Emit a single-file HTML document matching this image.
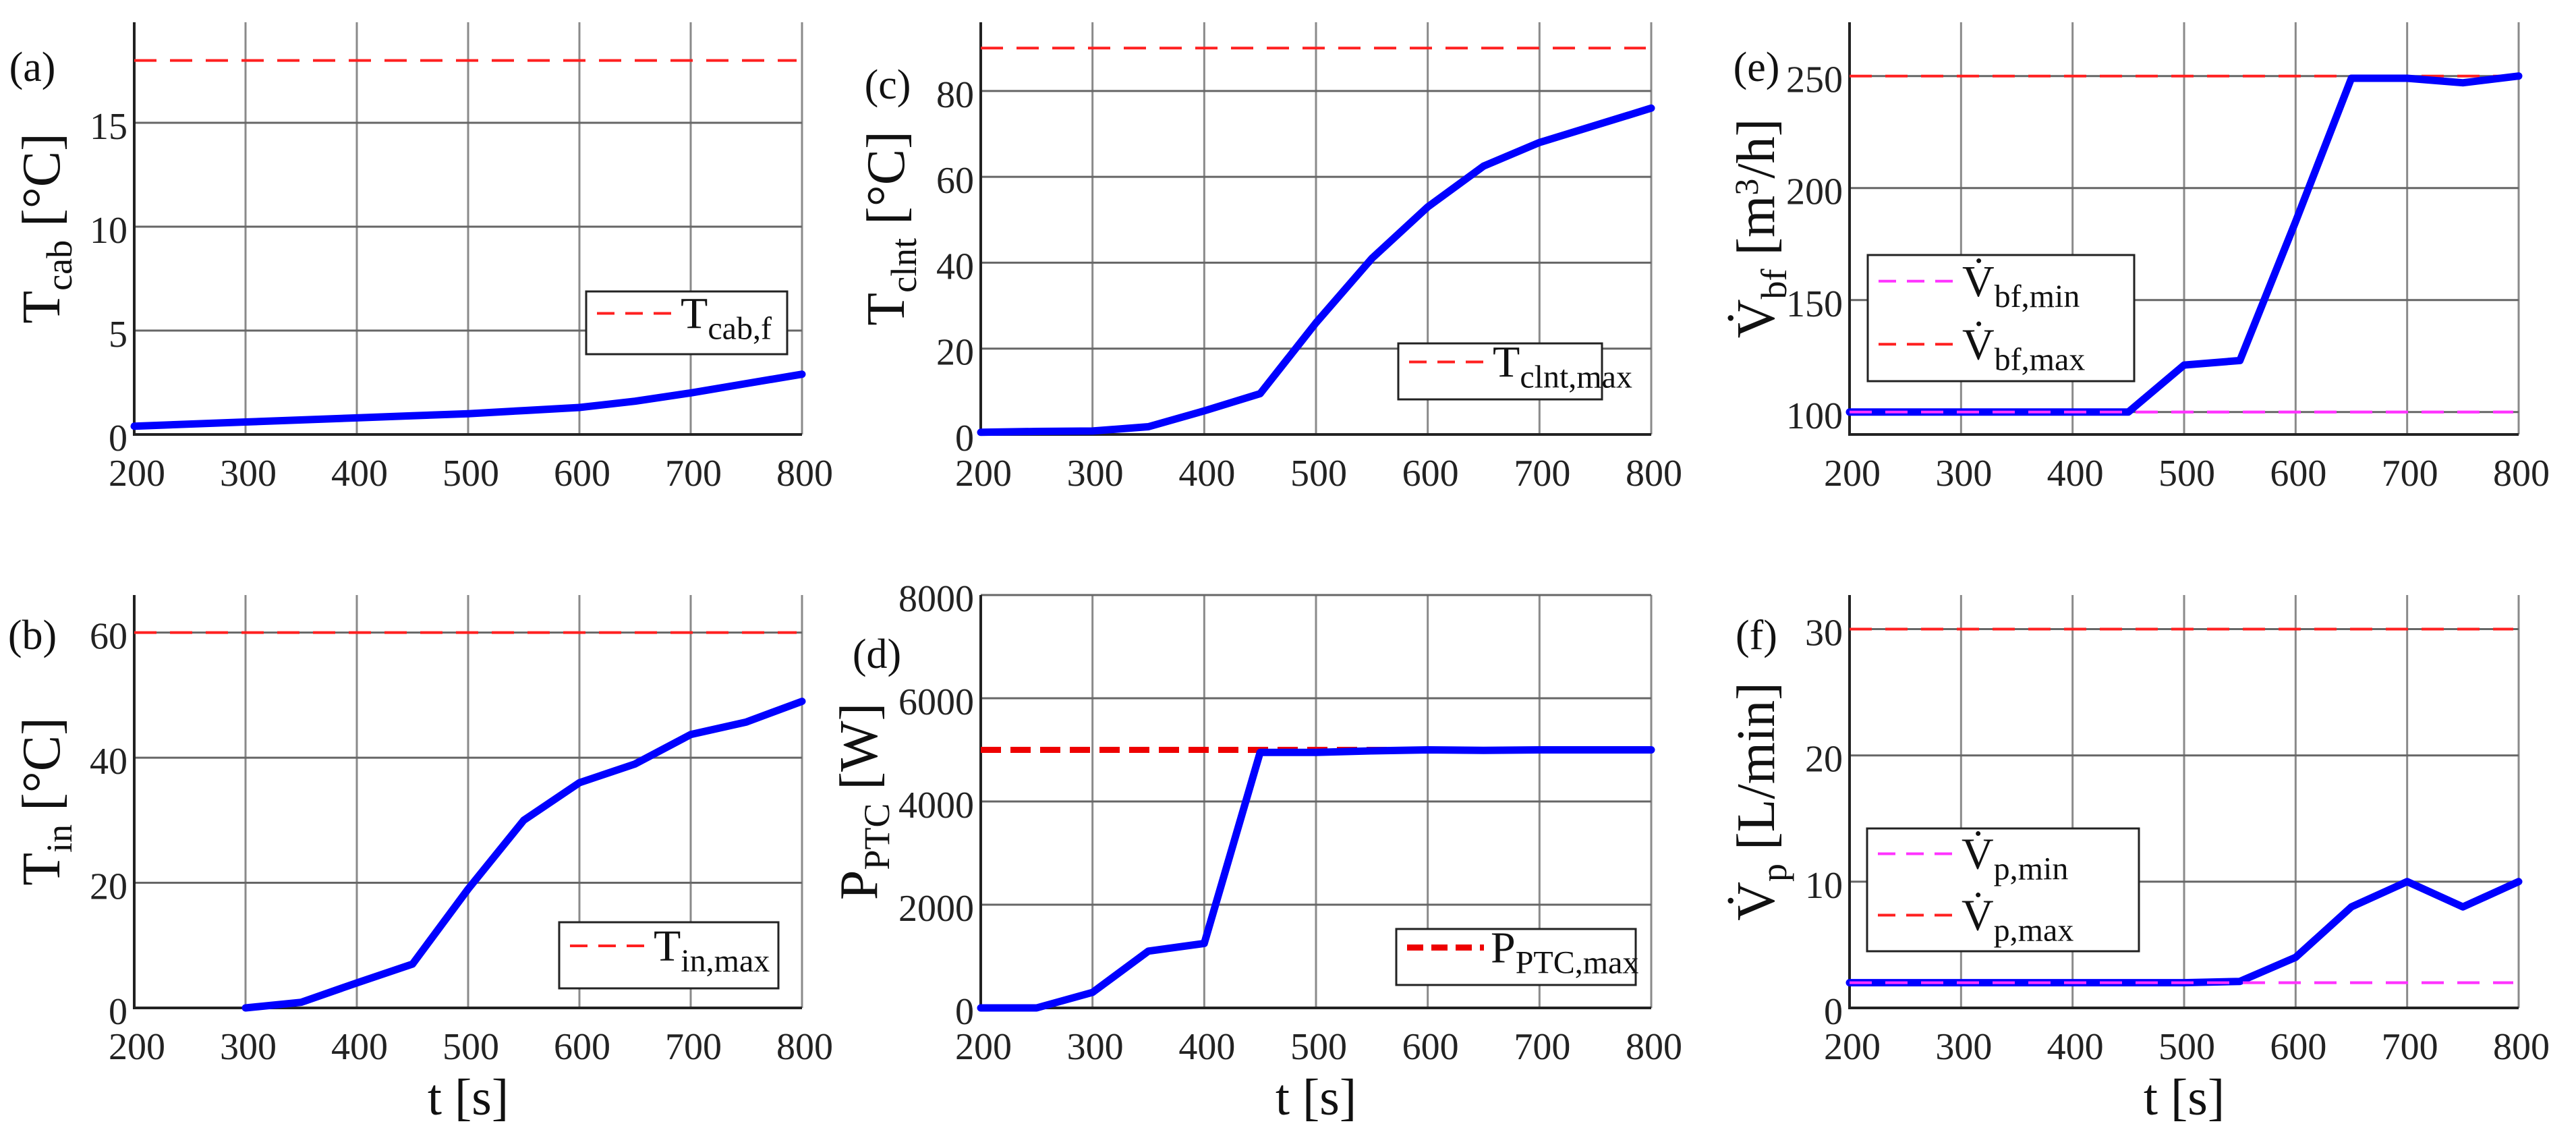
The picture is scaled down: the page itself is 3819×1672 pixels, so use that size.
<!DOCTYPE html>
<html><head><meta charset="utf-8">
<style>
html,body{margin:0;padding:0;background:#fff;}
svg{display:block;font-family:"Liberation Serif","DejaVu Serif",serif;}
</style></head>
<body>
<svg id="fig" width="3819" height="1672" viewBox="0 0 3819 1672" xmlns="http://www.w3.org/2000/svg"></svg>
<script>
// ---- data ----
const xTicks = [200,300,400,500,600,700,800];
const aX = [200,300,400,450,500,550,600,650,700,750,800];
const aY = [0.4,0.6,0.8,0.9,1.0,1.15,1.3,1.6,2.0,2.45,2.9];
const aTicks = [0,5,10,15];
const aRef = 18;
const bX = [300,350,400,450,500,550,600,650,700,750,800];
const bY = [0,0.9,4,7,19,30,36,39,43.7,45.7,49];
const bTicks = [0,20,40,60];
const bRef = 60;
const cX = [200,250,300,350,400,450,500,550,600,650,700,750,800];
const cY = [0.5,0.7,0.8,1.8,5.5,9.5,26,41,53,62.5,68,72,76];
const cTicks = [0,20,40,60,80];
const cRef = 90;
const dX = [200,250,300,350,400,450,500,550,600,650,700,750,800];
const dY = [0,0,300,1100,1250,4950,4950,4980,5000,4990,5000,5000,5000];
const dTicks = [0,2000,4000,6000,8000];
const dRef = 5000;
const eX = [200,250,300,350,400,450,500,550,600,650,700,750,800];
const eY = [100,100,100,100,100,100,121,123,185,249,249,247,250];
const eTicks = [100,150,200,250];
const eMin = 100, eMax = 250;
const fX = [200,250,300,350,400,450,500,550,600,650,700,750,800];
const fY = [2,2,2,2,2,2,2,2.1,4,8,10,8,10];
const fTicks = [0,10,20,30];
const fMin = 2, fMax = 30;

const NS = "http://www.w3.org/2000/svg";
const svg = document.getElementById('fig');
function mk(tag, attrs, parent){
  const e = document.createElementNS(NS, tag);
  for (const k in attrs) e.setAttribute(k, attrs[k]);
  (parent||svg).appendChild(e);
  return e;
}
function panel(o){
  const g = mk('g', {});
  
  
  const L=o.L,R=o.R,T=o.T,B=o.B;
  const sx = v => L + (v-200)/(600)*(R-L);
  const sy = v => B - (v-o.ymin)/(o.ymax-o.ymin)*(B-T);
  xTicks.forEach(t=>{
    const l = mk('line',{x1:sx(t),x2:sx(t),y1:T,y2:B,stroke:'#8a8a8a','stroke-width':3},g);
    
    
    const tx = mk('text',{x:sx(t)+4,y:(B+76),'font-size':56,'text-anchor':'middle',fill:'#222'},g);
    tx.textContent = t;
    
    
  });
  o.ticks.forEach(t=>{
    if (t!==o.ymin){
      const l = mk('line',{x1:L,x2:R,y1:sy(t),y2:sy(t),stroke:'#666','stroke-width':3},g);
      
      
    }
    const tx = mk('text',{x:L-10,y:sy(t)+24,'font-size':56,'text-anchor':'end',fill:'#222'},g);
    tx.textContent = t;
    
    
  });
  const ax = mk('path',{d:`M${L},${T} L${L},${B} L${R},${B}`,fill:'none',stroke:'#222','stroke-width':4},g);
  
  
  o.refs.forEach(r=>{
    const l = mk('line',{x1:L,x2:R-8,y1:sy(r.v),y2:sy(r.v),stroke:r.c,'stroke-width':r.w||4,'stroke-dasharray':r.da||'33 20'},g);
    
    
  });
  const pts = o.xs.map((x,i)=>sx(x).toFixed(1)+','+sy(o.ys[i]).toFixed(1)).join(' ');
  const pl = mk('polyline',{points:pts,fill:'none',stroke:'#0000ff','stroke-width':11,'stroke-linejoin':'round','stroke-linecap':'round'},g);
  
  
  o.refs.filter(r=>r.top).forEach(r=>{
    const l = mk('line',{x1:L,x2:R-8,y1:sy(r.v),y2:sy(r.v),stroke:r.c,'stroke-width':4,'stroke-dasharray':'33 20'},g);
    
    
  });
  const pl2 = mk('text',{x:o.labX,y:o.labY,'font-size':62,'text-anchor':'middle',fill:'#111'},g);
  pl2.textContent = '(' + o.id + ')';
  
  
  const yt = mk('text',{transform:`translate(${o.ytX},${(T+B)/2}) rotate(-90)`,'font-size':80,'text-anchor':'middle',fill:'#111'},g);
  yt.innerHTML = o.ytitle;
  
  
  if (o.xtitle){
    const xt = mk('text',{x:(L+R)/2,y:B+158,'font-size':76,'text-anchor':'middle',fill:'#111'},g);
    xt.textContent = 't [s]';
    
    
  }
  const lg = o.leg;
  const box = mk('rect',{x:lg.x,y:lg.y,width:lg.w,height:lg.h,fill:'#fff',stroke:'#222','stroke-width':3},g);
  
  
  lg.items.forEach((it,i)=>{
    const cy = lg.y + lg.h*(i+0.5)/lg.items.length - (lg.items.length>1?8:14);
    const ln = mk('line',{x1:lg.x+16,x2:lg.x+130,y1:cy,y2:cy,stroke:it.c,'stroke-width':it.w||4,'stroke-dasharray':it.da||'26 16'},g);
    
    
    const t = mk('text',{x:lg.x+140,y:cy+22,'font-size':66,fill:'#111'},g);
    t.innerHTML = it.label;
    
    
  });
}
const sub = s => `<tspan font-size="54" dy="18">${s}</tspan>`;
const subL = s => `<tspan font-size="48" dy="16">${s}</tspan>`;
panel({id:'a',L:199,R:1189,T:33,B:644,ymin:0,ymax:19.84,ticks:aTicks,xs:aX,ys:aY,
  refs:[{v:aRef,c:'#ff2020',name:'t-cab-f-line'}],labX:48,labY:120,ytX:88,
  ytitle:'T'+sub('cab')+'<tspan dy="-18"> [°C]</tspan>',
  leg:{x:869,y:432,w:298,h:93,items:[{c:'#ff2020',label:'T'+subL('cab,f')}]}});
panel({id:'b',L:199,R:1189,T:882,B:1494,ymin:0,ymax:66,ticks:bTicks,xs:bX,ys:bY,
  refs:[{v:bRef,c:'#ff2020',name:'t-in-max-line'}],labX:48,labY:962,ytX:88,
  ytitle:'T'+sub('in')+'<tspan dy="-18"> [°C]</tspan>',xtitle:true,
  leg:{x:829,y:1367,w:325,h:98,items:[{c:'#ff2020',label:'T'+subL('in,max')}]}});
panel({id:'c',L:1454,R:2448,T:33,B:644,ymin:0,ymax:96,ticks:cTicks,xs:cX,ys:cY,
  refs:[{v:cRef,c:'#ff2020',name:'t-clnt-max-line'}],labX:1316,labY:146,ytX:1340,
  ytitle:'T'+sub('clnt')+'<tspan dy="-18"> [°C]</tspan>',
  leg:{x:2073,y:509,w:302,h:83,items:[{c:'#ff2020',label:'T'+subL('clnt,max')}]}});
panel({id:'d',L:1454,R:2448,T:882,B:1494,ymin:0,ymax:8000,ticks:dTicks,xs:dX,ys:dY,
  refs:[{v:dRef,c:'#ee0000',w:9,da:'30 14',name:'p-ptc-max-line'}],labX:1300,labY:990,ytX:1300,
  ytitle:'P'+sub('PTC')+'<tspan dy="-18"> [W]</tspan>',xtitle:true,
  leg:{x:2070,y:1377,w:355,h:83,items:[{c:'#ee0000',w:9,da:'24 12',label:'P'+subL('PTC,max')}]}});
panel({id:'e',L:2742,R:3734,T:33,B:644,ymin:90,ymax:274,ticks:eTicks,xs:eX,ys:eY,
  refs:[{v:eMax,c:'#ff2020',name:'v-bf-max-line'},{v:eMin,c:'#ff33ff',top:true,name:'v-bf-min-line'}],labX:2604,labY:120,ytX:2630,
  ytitle:'V̇'+sub('bf')+'<tspan dy="-18"> [m</tspan><tspan font-size="50" dy="-24">3</tspan><tspan dy="24">/h]</tspan>',
  leg:{x:2769,y:378,w:395,h:187,items:[{c:'#ff33ff',label:'V̇'+subL('bf,min')},{c:'#ff2020',label:'V̇'+subL('bf,max')}]}});
panel({id:'f',L:2742,R:3734,T:882,B:1494,ymin:0,ymax:32.7,ticks:fTicks,xs:fX,ys:fY,
  refs:[{v:fMax,c:'#ff2020',name:'v-p-max-line'},{v:fMin,c:'#ff33ff',top:true,name:'v-p-min-line'}],labX:2604,labY:962,ytX:2630,
  ytitle:'V̇'+sub('p')+'<tspan dy="-18"> [L/min]</tspan>',xtitle:true,
  leg:{x:2768,y:1228,w:403,h:182,items:[{c:'#ff33ff',label:'V̇'+subL('p,min')},{c:'#ff2020',label:'V̇'+subL('p,max')}]}});
</script>
</body></html>
